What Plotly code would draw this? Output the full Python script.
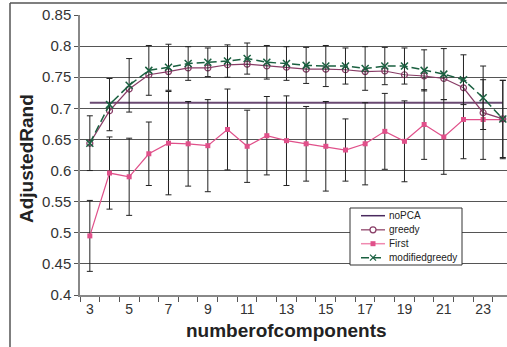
import plotly.graph_objects as go

components = [3, 4, 5, 6, 7, 8, 9, 10, 11, 12, 13, 14, 15, 16, 17, 18, 19, 20, 21, 22, 23, 24]
nopca = [0.709, 0.709, 0.709, 0.709, 0.709, 0.709, 0.709, 0.709, 0.709, 0.709, 0.709,
         0.709, 0.709, 0.709, 0.709, 0.709, 0.709, 0.709, 0.709, 0.709, 0.709, 0.709]
greedy = [0.644, 0.696, 0.731, 0.754, 0.759, 0.765, 0.765, 0.770, 0.771, 0.768, 0.766,
          0.763, 0.763, 0.762, 0.759, 0.760, 0.754, 0.752, 0.748, 0.733, 0.693, 0.683]
first = [0.495, 0.596, 0.590, 0.627, 0.644, 0.643, 0.640, 0.666, 0.639, 0.656, 0.648,
         0.643, 0.639, 0.633, 0.643, 0.663, 0.647, 0.674, 0.654, 0.682, 0.682, 0.682]
first_err = [0.057, 0.058, 0.062, 0.051, 0.083, 0.068, 0.074, 0.065, 0.058, 0.063, 0.072,
             0.060, 0.072, 0.050, 0.066, 0.061, 0.065, 0.056, 0.060, 0.063, 0.064, 0.063]
modgreedy = [0.644, 0.706, 0.737, 0.761, 0.766, 0.772, 0.774, 0.776, 0.780, 0.774, 0.772,
             0.769, 0.768, 0.768, 0.764, 0.768, 0.768, 0.761, 0.755, 0.746, 0.717, 0.683]
mod_err = [0.044, 0.042, 0.043, 0.040, 0.037, 0.027, 0.023, 0.026, 0.025, 0.027, 0.027,
           0.029, 0.033, 0.029, 0.035, 0.030, 0.029, 0.033, 0.041, 0.040, 0.051, 0.062]

x_tick_vals = [3, 5, 7, 9, 11, 13, 15, 17, 19, 21, 23]
x_tick_text = ["3", "5", "7", "9", "11", "13", "15", "17", "19", "21", "23"]
y_tick_vals = [0.4, 0.45, 0.5, 0.55, 0.6, 0.65, 0.7, 0.75, 0.8, 0.85]
y_tick_text = ["0.4", "0.45", "0.5", "0.55", "0.6", "0.65", "0.7", "0.75", "0.8", "0.85"]
legend_names = ["noPCA", "greedy", "First", "modifiedgreedy"]

C_NOPCA = "#6a4a72"
C_GREEDY = "#883c66"
C_FIRST = "#e0508a"
C_MOD = "#1a6040"
FONT = "Liberation Sans, Arial, sans-serif"

fig = go.Figure()
fig.add_trace(go.Scatter(x=components, y=nopca, mode="lines",
                         line=dict(color=C_NOPCA, width=2), name=legend_names[0]))
fig.add_trace(go.Scatter(x=components, y=first, mode="lines+markers",
                         line=dict(color=C_FIRST, width=1.2),
                         marker=dict(symbol="square", size=5, color=C_FIRST),
                         error_y=dict(type="data", array=first_err, color="#222",
                                      thickness=1, width=3),
                         name=legend_names[2]))
fig.add_trace(go.Scatter(x=components, y=greedy, mode="lines+markers",
                         line=dict(color=C_GREEDY, width=1.2),
                         marker=dict(symbol="circle-open", size=6, color=C_GREEDY,
                                     line=dict(width=1.2)),
                         name=legend_names[1]))
fig.add_trace(go.Scatter(x=components, y=modgreedy, mode="lines+markers",
                         line=dict(color=C_MOD, width=1.5, dash="8px,4px"),
                         marker=dict(symbol="x-thin", size=7, color=C_MOD,
                                     line=dict(width=1.5, color=C_MOD)),
                         error_y=dict(type="data", array=mod_err, color="#222",
                                      thickness=1, width=3),
                         name=legend_names[3]))

L, T, B = 80, 15, 52
W, H = 507, 347
PW, PH = W - L, H - T - B


def px(xp):
    return (xp - L) / PW


def py(yp):
    return (H - B - yp) / PH


shapes = []
annotations = []
# outer chart frame
shapes.append(dict(type="line", xref="paper", yref="paper", x0=px(10), x1=px(10),
                   y0=py(350), y1=py(3), line=dict(color="#555", width=1.5), layer="above"))
shapes.append(dict(type="line", xref="paper", yref="paper", x0=px(10), x1=px(510),
                   y0=py(3), y1=py(3), line=dict(color="#555", width=1.5), layer="above"))

# legend box
shapes.append(dict(type="rect", xref="paper", yref="paper", x0=px(350), x1=px(462),
                   y0=py(265), y1=py(208), fillcolor="white",
                   line=dict(color="#333", width=1), layer="above"))
rows = [215.7, 229.8, 243.7, 257.7]
lx0, lx1, lxm = 361, 385, 373
# noPCA
shapes.append(dict(type="line", xref="paper", yref="paper", x0=px(lx0), x1=px(lx1),
                   y0=py(rows[0]), y1=py(rows[0]), line=dict(color="#4a2a5e", width=1.5),
                   layer="above"))
# greedy
shapes.append(dict(type="line", xref="paper", yref="paper", x0=px(lx0), x1=px(lx1),
                   y0=py(rows[1]), y1=py(rows[1]), line=dict(color="#a06080", width=1.5),
                   layer="above"))
shapes.append(dict(type="circle", xref="paper", yref="paper", x0=px(lxm - 3), x1=px(lxm + 3),
                   y0=py(rows[1] + 3), y1=py(rows[1] - 3), fillcolor="white",
                   line=dict(color=C_GREEDY, width=1.2), layer="above"))
# First
shapes.append(dict(type="line", xref="paper", yref="paper", x0=px(lx0), x1=px(lx1),
                   y0=py(rows[2]), y1=py(rows[2]), line=dict(color="#f08ab0", width=1.5),
                   layer="above"))
shapes.append(dict(type="rect", xref="paper", yref="paper", x0=px(lxm - 2.5), x1=px(lxm + 2.5),
                   y0=py(rows[2] + 2.5), y1=py(rows[2] - 2.5), fillcolor=C_FIRST,
                   line=dict(color=C_FIRST, width=0), layer="above"))
# modifiedgreedy
shapes.append(dict(type="line", xref="paper", yref="paper", x0=px(lx0), x1=px(lx1 - 4),
                   y0=py(rows[3]), y1=py(rows[3]), line=dict(color=C_MOD, width=1.5, dash="8px,4px"),
                   layer="above"))
shapes.append(dict(type="line", xref="paper", yref="paper", x0=px(lxm - 3), x1=px(lxm + 3),
                   y0=py(rows[3] - 3), y1=py(rows[3] + 3), line=dict(color=C_MOD, width=1.2),
                   layer="above"))
shapes.append(dict(type="line", xref="paper", yref="paper", x0=px(lxm - 3), x1=px(lxm + 3),
                   y0=py(rows[3] + 3), y1=py(rows[3] - 3), line=dict(color=C_MOD, width=1.2),
                   layer="above"))

for name, r in zip(legend_names, rows):
    annotations.append(dict(text=name, xref="paper", yref="paper", x=px(387), y=py(r),
                            xanchor="left", yanchor="middle", showarrow=False,
                            font=dict(family=FONT, size=10, color="#222")))

annotations.append(dict(text="<b>AdjustedRand</b>", xref="paper", yref="paper",
                        x=px(26), y=py(159), textangle=-90, showarrow=False,
                        xanchor="center", yanchor="middle",
                        font=dict(family=FONT, size=19, color="#222")))
annotations.append(dict(text="<b>numberofcomponents</b>", xref="paper", yref="paper",
                        x=px(286), y=py(330), showarrow=False,
                        xanchor="center", yanchor="middle",
                        font=dict(family=FONT, size=19, color="#222")))

x_right = 2.5 + PW / 19.665

fig.update_layout(
    width=W, height=H,
    margin=dict(l=L, r=0, t=T, b=B, pad=0),
    paper_bgcolor="white", plot_bgcolor="white",
    showlegend=False,
    shapes=shapes, annotations=annotations,
    xaxis=dict(range=[2.5, x_right], tickvals=x_tick_vals, ticktext=x_tick_text,
               ticks="", showgrid=False, zeroline=False,
               showline=True, linecolor="#888", linewidth=1.5,
               tickfont=dict(family=FONT, size=14, color="#333"),
               minor=dict(tickvals=[v + 0.5 for v in [2] + components], ticks="outside",
                          ticklen=5, tickcolor="#555", tickwidth=1, showgrid=False)),
    yaxis=dict(range=[0.4, 0.85], tickvals=y_tick_vals, ticktext=y_tick_text,
               ticks="outside", ticklen=4, tickcolor="#555",
               showgrid=True, gridcolor="#555", gridwidth=1, zeroline=False,
               showline=True, linecolor="#888", linewidth=1.5,
               tickfont=dict(family=FONT, size=15, color="#333")),
)

fig.write_html("out.html")
